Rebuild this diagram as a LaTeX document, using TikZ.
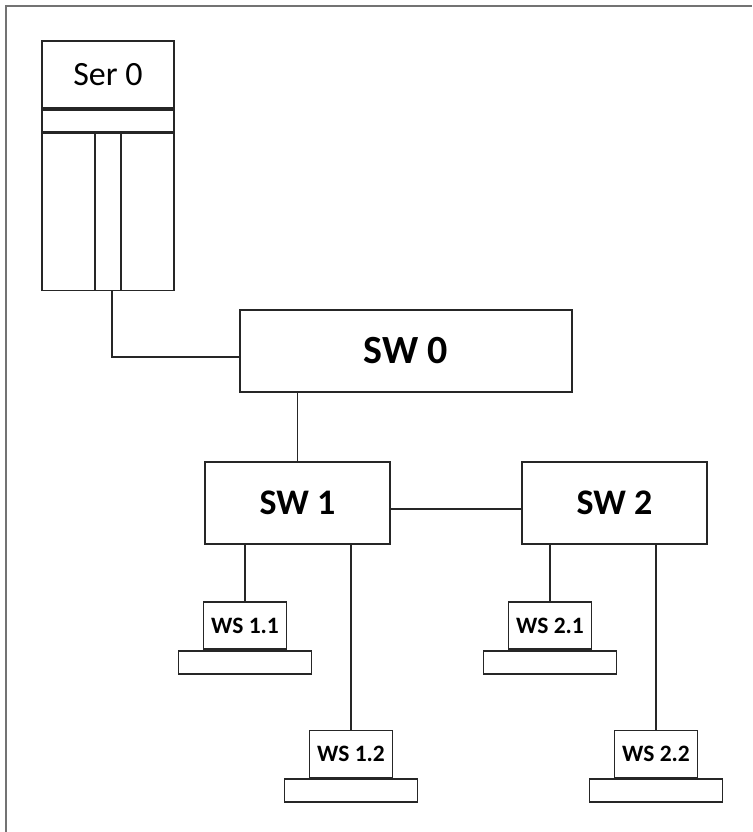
\documentclass[tikz,border=0pt]{standalone}
\usepackage{fontspec}
\setmainfont{Carlito}
\usetikzlibrary{positioning}

\begin{document}
\begin{tikzpicture}[x=1pt,y=-1pt]

	\tikzstyle{frame}=[gray!90!black,line width=1.6pt]
	\tikzstyle{box}=[draw=black!85,line width=1.7pt,inner sep=0pt]
	\tikzstyle{swbox}=[box,font=\fontsize{36}{40}\selectfont\bfseries,minimum width=185pt,minimum height=82pt]
	\tikzstyle{wsbox}=[box,font=\fontsize{23.5}{26}\selectfont\bfseries,minimum width=83pt,minimum height=47pt]
	\tikzstyle{wsbase}=[box,minimum width=133pt,minimum height=23pt]
	\tikzstyle{link}=[black!85,line width=1.7pt]

	\useasboundingbox (0,0) rectangle (752,832);
	\draw[frame] (6,832) -- (6,6) -- (752,6);

	% server
	\node[box,minimum width=132pt,minimum height=67pt,font=\fontsize{34}{40}\selectfont] (ser0) at (108,74.5) {Ser 0};
	\node[box,minimum width=132pt,minimum height=22pt,below=0pt of ser0] (ser0band) {};
	\node[box,minimum width=132pt,minimum height=157pt,below=0pt of ser0band] (ser0body) {};
	\node[box,minimum width=26pt,minimum height=157pt,below=0pt of ser0band] (ser0slot) {};

	% switches
	\node[swbox,font=\fontsize{40}{44}\selectfont\bfseries,minimum width=332pt] (sw0) at (406,351) {SW 0};
	\node[swbox] (sw1) at (297.5,503) {SW 1};
	\node[swbox] (sw2) at (614.5,503) {SW 2};

	\draw[link] ([xshift=4pt]ser0slot.south) |- ([yshift=-6pt]sw0.west);
	\draw[link] (sw1.north) -- (sw1.north |- sw0.south);
	\draw[link] ([yshift=-6pt]sw1.east) -- ([yshift=-6pt]sw2.west);

	% workstations
	\foreach \name/\lbl/\x/\y/\sw in {ws11/WS 1.1/245/625.5/sw1,ws12/WS 1.2/351/754/sw1,ws21/WS 2.1/550/625.5/sw2,ws22/WS 2.2/656/754/sw2}{
		\node[wsbox] (\name) at (\x,\y) {\lbl};
		\node[wsbase,below=0pt of \name] (\name base) {};
		\draw[link] (\name.north) -- (\name.north |- \sw.south);
	}

\end{tikzpicture}
\end{document}
